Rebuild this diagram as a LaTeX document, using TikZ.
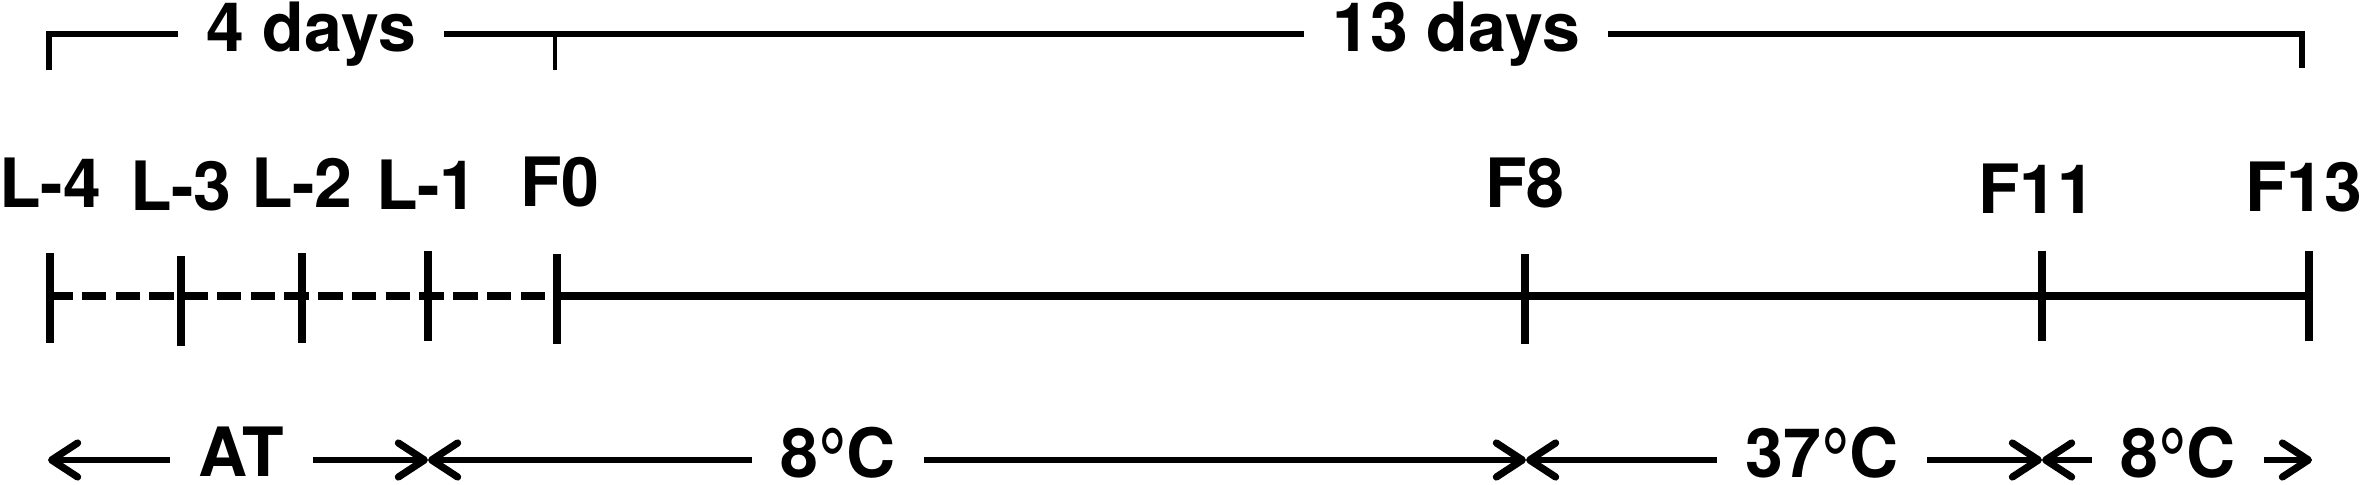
\documentclass[tikz,border=0pt]{standalone}
\usepackage{fontspec}
\setmainfont{TeX Gyre Heros}
\usetikzlibrary{arrows.meta}
\newcommand{\degsign}{\raisebox{-8pt}[0.7em][0pt]{\scalebox{1.05}[1.35]{°}}}
\begin{document}
\begin{tikzpicture}[x=0.5pt,y=-0.5pt,
  lbl/.style={font=\fontsize{34}{40}\selectfont\bfseries, inner sep=0pt, anchor=base},
  gaplbl/.style={lbl, inner xsep=14pt},
  bracket/.style={line width=2.8pt},
  fzero/.style={line width=2.2pt},
  axis/.style={line width=4.4pt},
  dashaxis/.style={line width=4.4pt, dash pattern=on 12.25pt off 4.625pt},
  tickmark/.style={line width=4.4pt},
  temp/.style={line width=3.2pt, -{Straight Barb[length=13pt,width=17pt,line width=3.6pt,round]}},
]
\useasboundingbox (0,0) rectangle (2362,485);

% ---- top brackets ----
\node[gaplbl] (d4) at (311,52) {4 days};
\node[gaplbl] (d13) at (1456,52) {13 days};
\coordinate (bl) at (49,70);
\coordinate (bltop) at (49,34);
\coordinate (f0top) at (555,34);
\coordinate (f0bot) at (555,70);
\coordinate (brtop) at (2302,34);
\coordinate (brbot) at (2302,68);
\draw[bracket] (bl) -- (bltop) -- (d4.west |- bltop);
\draw[bracket] (d4.east |- f0top) -- (d13.west |- f0top);
\draw[fzero] (f0top) -- (f0bot);
\draw[bracket] (d13.east |- brtop) -- (brtop) -- (brbot);

% ---- timeline ----
\coordinate (t1) at (50,296);
\coordinate (t2) at (181,296);
\coordinate (t3) at (302,296);
\coordinate (t4) at (428,296);
\coordinate (t5) at (557,296);
\coordinate (t6) at (1525,296);
\coordinate (t7) at (2042,296);
\coordinate (t8) at (2309,296);
\coordinate (dstart) at (48,296);

\draw[dashaxis] (dstart) -- (t5);
\draw[axis] (t5) -- (t8);
% \a = length above the axis, \b = length below it (pixels)
\foreach \t/\a/\b in {t1/43/47, t2/40/50, t3/43/47, t4/45/45, t5/42/48, t6/42/48, t7/45/45, t8/45/45}{
  \draw[tickmark] ([yshift=\a*0.5pt]\t) -- ([yshift=-\b*0.5pt]\t);
}

\node[lbl] (l4) at (50.5,208) {L-4};
\node[lbl] (l3) at (181,211) {L-3};
\node[lbl] (l2) at (302,208) {L-2};
\node[lbl] (l1) at (427,210) {L-1};
\node[lbl] (f0) at (560,207) {F0};
\node[lbl] (f8) at (1525,208) {F8};
\node[lbl] (f11) at (2037,214) {F11};
\node[lbl] (f13) at (2304,212) {F13};

% ---- temperature arrows ----
\coordinate (a0) at (48,460);
\coordinate (a1) at (428,460);
\coordinate (a2) at (1526,460);
\coordinate (a3) at (2042,460);
\coordinate (a4) at (2312,460);

\node[gaplbl] (at) at (241.5,477) {AT};
\node[gaplbl] (c8a) at (838,478) {8\degsign C};
\node[gaplbl] (c37) at (1822,478) {37\degsign C};
\node[gaplbl] (c8b) at (2178,478) {8\degsign C};

\draw[temp] (at.west |- a0) -- (a0);
\draw[temp] (at.east |- a0) -- (a1);
\draw[temp] (c8a.west |- a0) -- (a1);
\draw[temp] (c8a.east |- a0) -- (a2);
\draw[temp] (c37.west |- a0) -- (a2);
\draw[temp] (c37.east |- a0) -- (a3);
\draw[temp] (c8b.west |- a0) -- (a3);
\draw[temp] (c8b.east |- a0) -- (a4);
\end{tikzpicture}
\end{document}
